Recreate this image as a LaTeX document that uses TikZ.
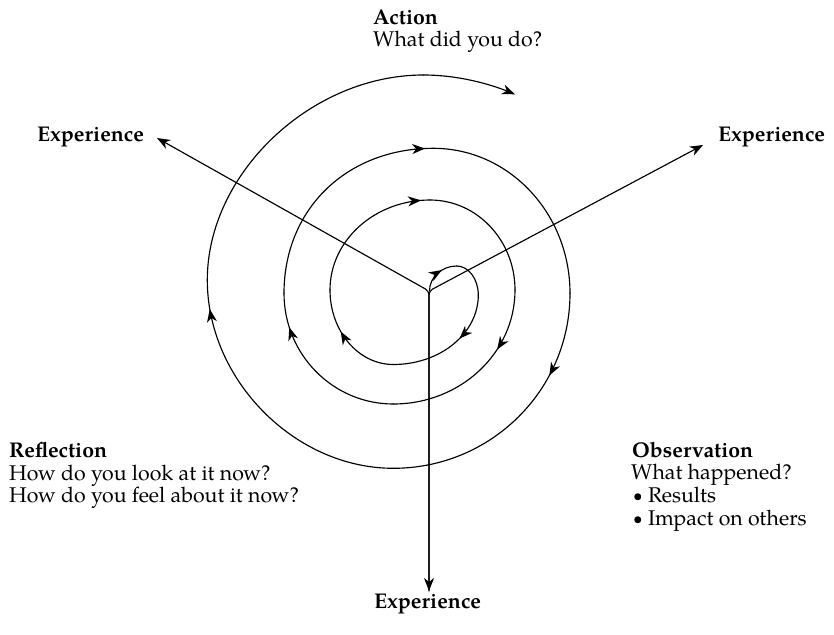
\documentclass[tikz,border=0pt]{standalone}
\usepackage{fontspec}
\setmainfont{TeX Gyre Pagella}
\usetikzlibrary{arrows.meta,decorations.markings}
\newcommand{\smbul}{\raisebox{0.8pt}{\fontsize{17}{17}\selectfont\textbullet}}
\begin{document}
\begin{tikzpicture}[x=1pt,y=-1pt,
  txt/.style={anchor=base west, inner sep=0pt, font=\fontsize{21.3}{23}\selectfont},
  bld/.style={anchor=base west, inner sep=0pt, font=\fontsize{21.3}{23}\selectfont\bfseries},
  ln/.style={line width=1.15pt, line join=round, line cap=round},
  tipend/.style={-{Stealth[length=13pt,width=10pt,inset=4pt]}},
  bothend/.style={{Stealth[length=13pt,width=10pt,inset=4pt]}-{Stealth[length=13pt,width=10pt,inset=4pt]}},
  marr/.style={postaction={decorate, decoration={markings,
     mark=at position #1 with {\arrow{Stealth[length=13pt,width=10pt,inset=4pt]}}}}}]
\useasboundingbox (0,0) rectangle (834,634);

% labels
\node[bld] (act) at (373,25) {Action};
\node[txt] (actq) at (373,47) {What did you do?};
\node[bld] (expul) at (37,141) {Experience};
\node[bld] (expur) at (718,141) {Experience};
\node[bld] (expd) at (374,608) {Experience};
\node[bld] (refl) at (9,457) {Reflection};
\node[txt] (refla) at (9,480) {How do you look at it now?};
\node[txt] (reflb) at (9,502) {How do you feel about it now?};
\node[bld] (obs) at (632,457) {Observation};
\node[txt] (obsa) at (631,479.5) {What happened?};
\node[txt] (obsb) at (633,502.5) {\smbul\ Results};
\node[txt] (obsc) at (633,525) {\smbul\ Impact on others};

% axes
\coordinate (j) at (429,291);
\coordinate (ulend) at (157,138);
\coordinate (urend) at (703,145);
\coordinate (dend) at (429,591);
\draw[ln, bothend, rounded corners=4pt] (ulend) -- (j) -- (dend);
\draw[ln, tipend, rounded corners=4pt] (dend) -- (j) -- (urend);

% spiral extremes
\coordinate (s0) at (429.5,291);
\coordinate (t1) at (456.7,266);
\coordinate (r1) at (478.3,295);
\coordinate (b1) at (393.3,364.5);
\coordinate (l1) at (330,290);
\coordinate (t2) at (430,200);
\coordinate (r2) at (515,290);
\coordinate (b2) at (393.3,404);
\coordinate (l2) at (284,293.3);
\coordinate (t3) at (433.3,148.3);
\coordinate (r3) at (570,293.3);
\coordinate (b3) at (393.3,468.3);
\coordinate (l3) at (207.3,280);
\coordinate (t4) at (423.3,75);
\coordinate (se) at (515,94.3);

\draw[ln, marr=0.62] (s0) .. controls (429.5,277.2) and (441.7,266) .. (t1);
\draw[ln] (t1) .. controls (468.6,266) and (478.3,279) .. (r1);
\draw[ln, marr=0.4] (r1) .. controls (478.3,333.4) and (440.2,364.5) .. (b1);
\draw[ln, marr=0.6] (b1) .. controls (358.3,364.5) and (330,331.1) .. (l1);
\draw[ln, marr=0.94] (l1) .. controls (330,240.3) and (374.8,200) .. (t2);
\draw[ln] (t2) .. controls (476.9,200) and (515,240.3) .. (r2);
\draw[ln, marr=0.34] (r2) .. controls (515,353) and (460.5,404) .. (b2);
\draw[ln, marr=0.8] (b2) .. controls (332.9,404) and (284,354.4) .. (l2);
\draw[ln, marr=0.965] (l2) .. controls (284,209.2) and (346.7,148.3) .. (t3);
\draw[ln] (t3) .. controls (508.8,148.3) and (570,213.2) .. (r3);
\draw[ln, marr=0.31] (r3) .. controls (570,390) and (490.9,468.3) .. (b3);
\draw[ln, marr=0.9] (b3) .. controls (294.7,468.3) and (207.3,379.8) .. (l3);
\draw[ln] (l3) .. controls (207.3,173.4) and (311,75) .. (t4);
\draw[ln, tipend] (t4) .. controls (460,75) and (492,85) .. (se);
\end{tikzpicture}
\end{document}
